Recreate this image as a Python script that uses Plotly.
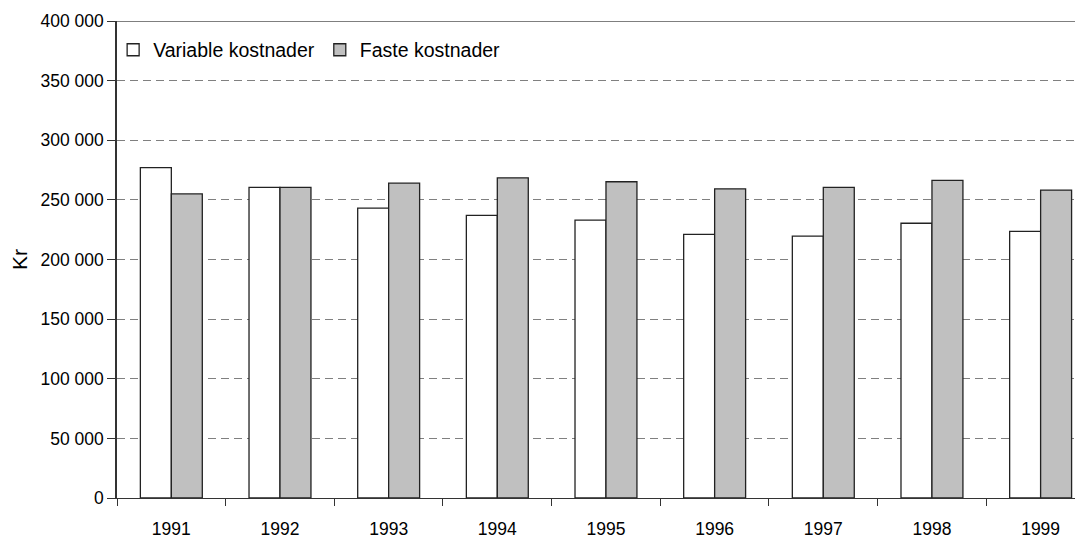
import plotly.graph_objects as go

# Variable and fixed costs per year (Kr)
years = ["1991", "1992", "1993", "1994", "1995", "1996", "1997", "1998", "1999"]
variable_kostnader = [277000, 260500, 243000, 237000, 233000, 221000, 219600, 230400, 223600]
faste_kostnader = [255000, 260500, 264000, 268500, 265200, 259300, 260500, 266400, 258200]

fig = go.Figure()
fig.add_trace(go.Bar(x=years, y=variable_kostnader, name="Variable kostnader",
                     marker=dict(color="white", line=dict(color="#222222", width=1.3))))
fig.add_trace(go.Bar(x=years, y=faste_kostnader, name="Faste kostnader",
                     marker=dict(color="#C0C0C0", line=dict(color="#222222", width=1.3))))

# page body adds an 8px margin, so the figure is 8px smaller than the window
fig.update_layout(
    width=1075, height=530,
    margin=dict(l=109, r=0, t=13, b=40),
    plot_bgcolor="white", paper_bgcolor="white",
    font=dict(family="Liberation Sans, Arial", size=17.5, color="black"),
    separators=", ",
    barmode="group", bargap=0.43, bargroupgap=0,
    showlegend=True,
    legend=dict(orientation="h", x=-0.004, y=0.939, xanchor="left", yanchor="middle",
                bgcolor="rgba(0,0,0,0)", font=dict(size=19.5), itemwidth=30,
                traceorder="normal", tracegroupgap=0),
)

fig.update_xaxes(
    type="category", range=[-0.5, 8.39], automargin=False,
    showline=True, linecolor="#333333", linewidth=1,
    ticks="outside", tickson="boundaries", ticklen=7, tickcolor="#333333",
    ticklabelstandoff=15, showgrid=False,
)
fig.update_yaxes(
    range=[0, 400000], dtick=50000, tickformat=",d", automargin=False,
    showline=True, linecolor="#333333", linewidth=1.5,
    ticks="outside", ticklen=8, tickcolor="#333333",
    showgrid=True, gridcolor="#808080", gridwidth=1, griddash="8px,5px",
    zeroline=False,
    title=dict(text="Kr", standoff=12),
)

# solid top border of the plot area
fig.add_shape(type="line", xref="paper", yref="y", x0=0, x1=1, y0=400000, y1=400000,
              line=dict(color="#555555", width=1.5))

fig.write_html("out.html")
